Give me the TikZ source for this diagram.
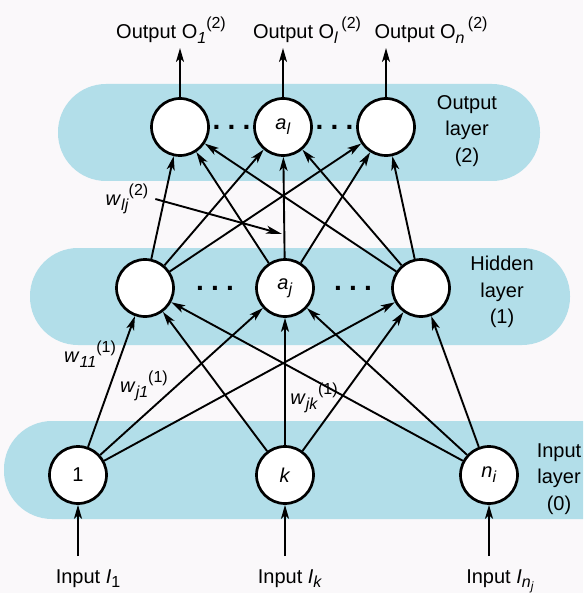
\documentclass[tikz,border=0pt]{standalone}
\usepackage{fontspec}
\setmainfont{Liberation Sans}
\usetikzlibrary{arrows.meta,calc}
\definecolor{paper}{RGB}{250,248,250}
\definecolor{bandblue}{RGB}{178,222,233}
\newcommand{\lo}[1]{\raisebox{-2.4pt}{\fontsize{8}{8}\selectfont #1}}
\newcommand{\hi}[1]{\raisebox{5pt}{\fontsize{8}{8}\selectfont #1}}
\newcommand{\dotrow}{{\fontsize{14}{14}\selectfont\bfseries .\hspace{3.6pt}.\hspace{3.6pt}.}}
\tikzset{
  neuron/.style={circle,draw,line width=1.35pt,fill=white,minimum size=28.5pt,inner sep=0pt},
  band/.style={fill=bandblue,rounded corners=24pt},
  link/.style={line width=0.95pt,-{Stealth[length=7pt,width=4pt,inset=1.8pt]}},
  layername/.style={align=center},
}

\begin{document}
\begin{tikzpicture}[x=0.5pt,y=-0.5pt,font=\fontsize{10}{13.2}\selectfont]
\fill[paper] (0,0) rectangle (583,593);
\useasboundingbox (0,0) rectangle (583,593);
\begin{scope}
  \clip (0,0) rectangle (583,593);
  \fill[band] (58,84) rectangle (540,181);
  \fill[band] (30,248) rectangle (570,345);
  \fill[band] (4,421) rectangle (650,519);
\end{scope}

\node[neuron] (o1) at (180,127) {};
\node[neuron] (ol) at (283,127) {\textit{a}\lo{\textit{l}}};
\node[neuron] (on) at (386,127) {};
\node[neuron] (h1) at (145,288) {};
\node[neuron] (hj) at (285,288) {\textit{a}\lo{\textit{j}}};
\node[neuron] (hn) at (421,288) {};
\node[neuron] (i1) at (78,475) {1};
\node[neuron] (ik) at (285,475) {\textit{k}};
\node[neuron] (in) at (489,475) {\textit{n}\lo{\textit{i}}};

\node (do1) at ($(o1)!.5!(ol)$) {\dotrow};
\node (do2) at ($(ol)!.5!(on)$) {\dotrow};
\node (dh1) at ($(h1)!.5!(hj)$) {\dotrow};
\node (dh2) at ($(hj)!.5!(hn)$) {\dotrow};

\node[layername] (outname) at (467,131) {Output\\layer\\(2)};
\node[layername] (hidname) at (502,292) {Hidden\\layer\\(1)};
\node[layername] (inname) at (559,479) {Input\\layer\\(0)};

\draw[link] (h1) -- (o1);
\draw[link] (h1) -- (ol);
\draw[link] (h1) -- (on);
\draw[link] (hj) -- (o1);
\draw[link] (hj) -- (ol);
\draw[link] (hj) -- (on);
\draw[link] (hn) -- (o1);
\draw[link] (hn) -- (ol);
\draw[link] (hn) -- (on);

\draw[link] (i1) -- (h1);
\draw[link] (i1) -- (hj);
\draw[link] (i1) -- (hn);
\draw[link] (ik) -- (h1);
\draw[link] (ik) -- (hj);
\draw[link] (ik) -- (hn);
\draw[link] (in) -- (h1);
\draw[link] (in) -- (hj);
\draw[link] (in) -- (hn);

\coordinate (top1) at (180,48);
\coordinate (topl) at (283,48);
\coordinate (topn) at (386,48);
\draw[link] (o1) -- (top1);
\draw[link] (ol) -- (topl);
\draw[link] (on) -- (topn);
\node[anchor=base] (out1) at (171,39) {Output O\lo{\textit{1}}\hi{(2)}};
\node[anchor=base] (outl) at (307,39) {Output O\lo{\textit{l}}\,\hi{(2)}};
\node[anchor=base] (outn) at (431,39) {Output O\lo{\textit{n}}\,\hi{(2)}};

\coordinate (bot1) at (78,556);
\coordinate (botk) at (285,556);
\coordinate (botn) at (489,556);
\draw[link] (bot1) -- (i1);
\draw[link] (botk) -- (ik);
\draw[link] (botn) -- (in);
\node[anchor=base] (inp1) at (88,583) {Input \textit{I}\lo{1}};
\node[anchor=base] (inpk) at (290,583) {Input \textit{I}\lo{\textit{k}}};
\node[anchor=base] (inpn) at (500,583) {Input \textit{I}\lo{\textit{n}\raisebox{-1.5pt}{\fontsize{6}{6}\selectfont\textit{j}}}};

\node (wlj) at (127,199) {\textit{w}\lo{\textit{lj}}\hi{(2)}};
\coordinate (wtip) at (282,234);
\draw[line width=0.95pt,-{Stealth[length=8pt,width=4pt,inset=2pt]}] (wlj.east) -- (wtip);
\node (w11) at (90,354) {\textit{w}\lo{\textit{11}}\hi{(1)}};
\node (wj1) at (144,386) {\textit{w}\lo{\textit{j1}}\hi{(1)}};
\node (wjk) at (314,398) {\textit{w}\lo{\textit{jk}}\hi{(1)}};
\end{tikzpicture}
\end{document}
